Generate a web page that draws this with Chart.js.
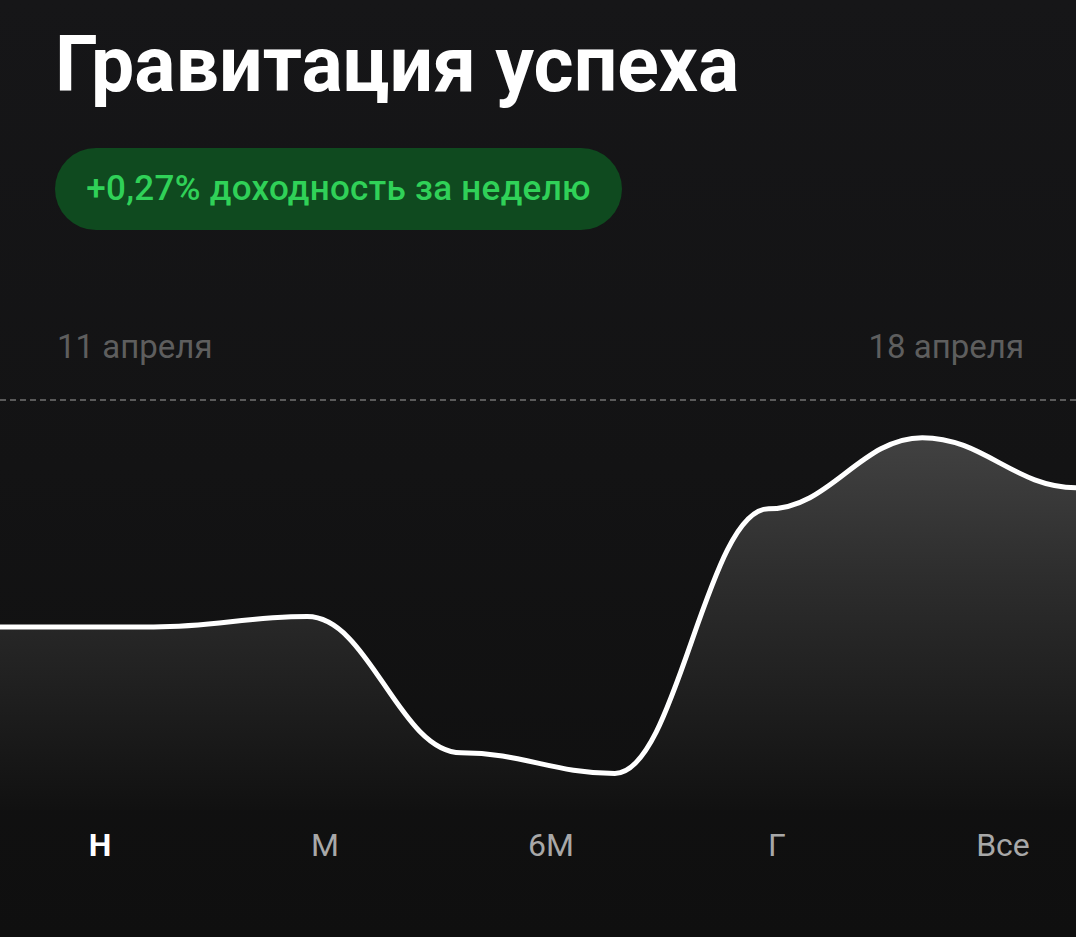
<!DOCTYPE html>
<html>
<head>
<meta charset="utf-8">
<script src="https://cdn.jsdelivr.net/npm/chart.js@4/dist/chart.umd.min.js"></script>
<style>
  html,body{margin:0;padding:0;}
  body{width:1076px;height:937px;overflow:hidden;position:relative;
       background:linear-gradient(#161618 0%, #131314 50%, #0f0f0f 100%);
       font-family:Roboto,"Noto Sans",sans-serif;}
  .title{position:absolute;left:55px;top:20px;font-size:77px;font-weight:700;color:#fff;white-space:nowrap;}
  .pill{position:absolute;left:55px;top:148px;width:567px;height:82px;border-radius:41px;background:#0f4a1f;
        color:#30d158;font-size:35px;font-weight:500;line-height:82px;text-align:center;white-space:nowrap;letter-spacing:0.3px;}
  .date{position:absolute;top:327px;font-size:33px;color:#5e5e5e;white-space:nowrap;}
  .period{position:absolute;top:826px;font-size:32px;color:#a8a8a8;transform:translateX(-50%);white-space:nowrap;}
  .period.active{color:#fff;font-weight:700;}
  #wrap{position:absolute;left:0;top:396px;width:1076px;height:414px;}
</style>
</head>
<body>
<div class="title">Гравитация успеха</div>
<div class="pill">+0,27% доходность за неделю</div>
<div class="date" id="d0" style="left:57px"></div>
<div class="date" id="d1" style="right:52px"></div>
<div id="periods"></div>
<div id="wrap"><canvas id="c"></canvas></div>
<script>
// Data (weekly return, %, relative to 11 April)
const days = ["11 апреля","12 апреля","13 апреля","14 апреля","15 апреля","16 апреля","17 апреля","18 апреля"];
const returns = [0, 0, 0.020, -0.244, -0.284, 0.229, 0.367, 0.270];
const periodLabels = ["Н","М","6М","Г","Все"];
const periodX = [100, 325, 551, 777, 1003];
const yMin = -0.355, yMax = 0.44;

document.getElementById('d0').textContent = days[0];
document.getElementById('d1').textContent = days[days.length-1];
const pw = document.getElementById('periods');
periodLabels.forEach((p,i)=>{
  const d=document.createElement('div');
  d.className='period'+(i===0?' active':'');
  d.style.left=periodX[i]+'px';
  d.textContent=p;
  pw.appendChild(d);
});

// Horizontal-tangent smoothing (each point is a flat knot, like a "bump" curve)
const bumpPlugin = {
  id:'bump',
  beforeDatasetsDraw(chart){
    const c = 0.4;
    chart.getSortedVisibleDatasetMetas().forEach(meta=>{
      const line = meta.dataset; const pts = meta.data; const n = pts.length;
      if(!line || n<2) return;
      for(let i=0;i<n;i++){
        const pt=pts[i];
        const hp = i>0 ? (pt.x-pts[i-1].x)*c : 0;
        const hn = i<n-1 ? (pts[i+1].x-pt.x)*c : 0;
        pt.cp1x=pt.x-hp; pt.cp1y=pt.y;
        pt.cp2x=pt.x+hn; pt.cp2y=pt.y;
      }
      line._pointsUpdated = true;
      delete line._path;
    });
  }
};

new Chart(document.getElementById('c'), {
  type:'line',
  data:{
    labels:days,
    datasets:[{
      data:returns,
      borderColor:'#ffffff',
      borderWidth:5,
      pointRadius:0,
      cubicInterpolationMode:'monotone',
      fill:'start',
      backgroundColor:(ctx)=>{
        const ca=ctx.chart.chartArea;
        if(!ca) return 'rgba(0,0,0,0)';
        const g=ctx.chart.ctx.createLinearGradient(0,ca.top,0,ca.bottom);
        g.addColorStop(0,'#474747');
        g.addColorStop(0.45,'#2c2c2c');
        g.addColorStop(1,'#111111');
        return g;
      }
    }]
  },
  plugins:[bumpPlugin],
  options:{
    responsive:true,
    maintainAspectRatio:false,
    animation:false,
    layout:{padding:{top:4,bottom:0,left:0,right:0}},
    plugins:{legend:{display:false},tooltip:{enabled:false}},
    scales:{
      x:{display:false, offset:false},
      y:{
        min:yMin,max:yMax,
        display:true,
        afterBuildTicks:(s)=>{ s.ticks=[{value:yMax}]; },
        ticks:{display:false},
        grid:{color:'#5a5a5a',lineWidth:2,drawTicks:false},
        border:{display:false,dash:[6,4]}
      }
    }
  }
});
</script>
</body>
</html>
